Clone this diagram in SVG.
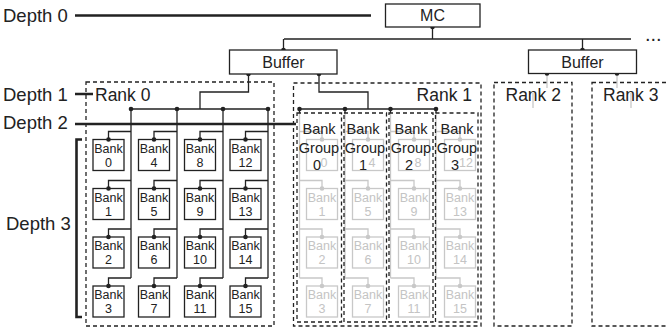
<svg xmlns="http://www.w3.org/2000/svg" width="668" height="334" viewBox="0 0 668 334">
<style>
text{font-family:"Liberation Sans",Arial,sans-serif;fill:#222}
.lbl{font-size:18.5px}
.rk{font-size:17.5px}
.bf{font-size:16px;text-anchor:middle}
.bk{font-size:12.5px;text-anchor:middle}
.bg{font-size:14.5px;text-anchor:middle}
.gt{font-size:12.5px;text-anchor:middle;fill:#c4c4c4}
.ln{fill:none;stroke:#222;stroke-width:1.3}
.gl{fill:none;stroke:#c8c8c8;stroke-width:1.3}
.th{fill:none;stroke:#222;stroke-width:2.6}
.box{fill:#fff;stroke:#222;stroke-width:1.3}
.gbox{fill:none;stroke:#c8c8c8;stroke-width:1.3}
.dash{fill:none;stroke:#222;stroke-width:1.3;stroke-dasharray:4 3}
.dot{fill:#222}
.gdot{fill:#c8c8c8}
</style>

<g id="labels">
<text class="lbl" x="3" y="22">Depth 0</text>
<text class="lbl" x="3" y="101">Depth 1</text>
<text class="lbl" x="3" y="129">Depth 2</text>
<text class="lbl" x="6" y="230">Depth 3</text>
<text x="645" y="41" style="font-size:20px">...</text>
</g>

<g id="rank-boxes">
<rect id="rank0" class="dash" x="86" y="82" width="188" height="244"/>
<rect id="rank1" class="dash" x="293.5" y="83" width="187.5" height="243"/>
<rect id="rank2" class="dash" x="494" y="82.5" width="78" height="243.5"/>
<rect id="rank3" class="dash" x="592" y="82.5" width="90" height="243.5"/>
<text class="rk" x="95" y="101">Rank 0</text>
<text class="rk" x="472" y="101" text-anchor="end">Rank 1</text>
<text class="rk" x="505.5" y="101">Rank 2</text>
<text class="rk" x="603" y="101">Rank 3</text>
</g>

<g id="connectors">
<path class="ln" d="M284,39 H631 M432.5,27 V39 M283.5,39 V50 M582.5,39 V50"/>
<path class="ln" d="M248.5,74 V92 H200 V109 M131,109 H268"/>
<path class="ln" d="M319,74 V92 H368 V109 M299.5,109 H436"/>
<path class="ln" d="M131,109 V278 M177,109 V278 M223,109 V278 M268,109 V278"/>
<path class="ln" d="M299.5,109 V113 M345,109 V113 M390.5,109 V113 M436,109 V113"/>
<path class="gl" d="M547,74 V88 M533,93 V108 M617,74 V88 M631,93 V108"/>
<circle class="dot" cx="432.5" cy="27" r="2.3"/>
<circle class="dot" cx="283.5" cy="50" r="2.3"/>
<circle class="dot" cx="582.5" cy="50" r="2.3"/>
<circle class="dot" cx="248.5" cy="74" r="2.3"/>
<circle class="dot" cx="319" cy="74" r="2.3"/>
<circle class="dot" cx="547" cy="73.5" r="2.3"/>
<circle class="dot" cx="617" cy="73.5" r="2.3"/>
<circle class="dot" cx="131" cy="109" r="2.3"/>
<circle class="dot" cx="177" cy="109" r="2.3"/>
<circle class="dot" cx="223" cy="109" r="2.3"/>
<circle class="dot" cx="268" cy="109" r="2.3"/>
<circle class="dot" cx="299.5" cy="109" r="2.3"/>
<circle class="dot" cx="345" cy="109" r="2.3"/>
<circle class="dot" cx="390.5" cy="109" r="2.3"/>
<circle class="dot" cx="436" cy="109" r="2.3"/>
<path class="ln" d="M131,131.5 H108.5 V139.5 M131,180.5 H108.5 V188.5 M131,229 H108.5 V237 M131,278 H108.5 V286"/>
<path class="ln" d="M177,131.5 H154 V139.5 M177,180.5 H154 V188.5 M177,229 H154 V237 M177,278 H154 V286"/>
<path class="ln" d="M223,131.5 H200 V139.5 M223,180.5 H200 V188.5 M223,229 H200 V237 M223,278 H200 V286"/>
<path class="ln" d="M268,131.5 H245.5 V139.5 M268,180.5 H245.5 V188.5 M268,229 H245.5 V237 M268,278 H245.5 V286"/>
<path class="gl" d="M299.5,113 V278 M299.5,131.5 H322 V139.5 M299.5,180.5 H322 V188.5 M299.5,229 H322 V237 M299.5,278 H322 V286"/>
<path class="gl" d="M345,113 V278 M345,131.5 H368 V139.5 M345,180.5 H368 V188.5 M345,229 H368 V237 M345,278 H368 V286"/>
<path class="gl" d="M390.5,113 V278 M390.5,131.5 H414 V139.5 M390.5,180.5 H414 V188.5 M390.5,229 H414 V237 M390.5,278 H414 V286"/>
<path class="gl" d="M436,113 V278 M436,131.5 H460 V139.5 M436,180.5 H460 V188.5 M436,229 H460 V237 M436,278 H460 V286"/>
<path class="th" d="M75,15.5 H371 M75,94 H93 M75,124 H296 M82,139.5 H76.5 V317 H82"/>
</g>

<g id="mc">
<rect class="box" x="385.5" y="4" width="94.5" height="23"/>
<text class="bf" x="432.5" y="21">MC</text>
</g>
<g id="buffer-left">
<rect class="box" x="229.5" y="50" width="107.5" height="24"/>
<text class="bf" x="283.5" y="67.5">Buffer</text>
</g>
<g id="buffer-right">
<rect class="box" x="528.5" y="50" width="108" height="23.5"/>
<text class="bf" x="582.5" y="67.5">Buffer</text>
</g>

<g id="rank0-banks">
<g id="bank0"><rect class="box" x="93" y="139.5" width="31" height="31"/><text class="bk" x="108.5" y="152.5">Bank</text><text class="bk" x="108.5" y="166.5">0</text></g>
<g id="bank1"><rect class="box" x="93" y="188.5" width="31" height="31"/><text class="bk" x="108.5" y="201.5">Bank</text><text class="bk" x="108.5" y="215.5">1</text></g>
<g id="bank2"><rect class="box" x="93" y="237" width="31" height="31"/><text class="bk" x="108.5" y="250">Bank</text><text class="bk" x="108.5" y="264">2</text></g>
<g id="bank3"><rect class="box" x="93" y="286" width="31" height="31"/><text class="bk" x="108.5" y="299">Bank</text><text class="bk" x="108.5" y="313">3</text></g>
<g id="bank4"><rect class="box" x="138.5" y="139.5" width="31" height="31"/><text class="bk" x="154" y="152.5">Bank</text><text class="bk" x="154" y="166.5">4</text></g>
<g id="bank5"><rect class="box" x="138.5" y="188.5" width="31" height="31"/><text class="bk" x="154" y="201.5">Bank</text><text class="bk" x="154" y="215.5">5</text></g>
<g id="bank6"><rect class="box" x="138.5" y="237" width="31" height="31"/><text class="bk" x="154" y="250">Bank</text><text class="bk" x="154" y="264">6</text></g>
<g id="bank7"><rect class="box" x="138.5" y="286" width="31" height="31"/><text class="bk" x="154" y="299">Bank</text><text class="bk" x="154" y="313">7</text></g>
<g id="bank8"><rect class="box" x="184.5" y="139.5" width="31" height="31"/><text class="bk" x="200" y="152.5">Bank</text><text class="bk" x="200" y="166.5">8</text></g>
<g id="bank9"><rect class="box" x="184.5" y="188.5" width="31" height="31"/><text class="bk" x="200" y="201.5">Bank</text><text class="bk" x="200" y="215.5">9</text></g>
<g id="bank10"><rect class="box" x="184.5" y="237" width="31" height="31"/><text class="bk" x="200" y="250">Bank</text><text class="bk" x="200" y="264">10</text></g>
<g id="bank11"><rect class="box" x="184.5" y="286" width="31" height="31"/><text class="bk" x="200" y="299">Bank</text><text class="bk" x="200" y="313">11</text></g>
<g id="bank12"><rect class="box" x="230" y="139.5" width="31" height="31"/><text class="bk" x="245.5" y="152.5">Bank</text><text class="bk" x="245.5" y="166.5">12</text></g>
<g id="bank13"><rect class="box" x="230" y="188.5" width="31" height="31"/><text class="bk" x="245.5" y="201.5">Bank</text><text class="bk" x="245.5" y="215.5">13</text></g>
<g id="bank14"><rect class="box" x="230" y="237" width="31" height="31"/><text class="bk" x="245.5" y="250">Bank</text><text class="bk" x="245.5" y="264">14</text></g>
<g id="bank15"><rect class="box" x="230" y="286" width="31" height="31"/><text class="bk" x="245.5" y="299">Bank</text><text class="bk" x="245.5" y="313">15</text></g>
<g class="dots">
<circle class="dot" cx="108.5" cy="139.5" r="2.3"/><circle class="dot" cx="108.5" cy="188.5" r="2.3"/><circle class="dot" cx="108.5" cy="237" r="2.3"/><circle class="dot" cx="108.5" cy="286" r="2.3"/>
<circle class="dot" cx="154" cy="139.5" r="2.3"/><circle class="dot" cx="154" cy="188.5" r="2.3"/><circle class="dot" cx="154" cy="237" r="2.3"/><circle class="dot" cx="154" cy="286" r="2.3"/>
<circle class="dot" cx="200" cy="139.5" r="2.3"/><circle class="dot" cx="200" cy="188.5" r="2.3"/><circle class="dot" cx="200" cy="237" r="2.3"/><circle class="dot" cx="200" cy="286" r="2.3"/>
<circle class="dot" cx="245.5" cy="139.5" r="2.3"/><circle class="dot" cx="245.5" cy="188.5" r="2.3"/><circle class="dot" cx="245.5" cy="237" r="2.3"/><circle class="dot" cx="245.5" cy="286" r="2.3"/>
</g>
</g>

<g id="rank1-banks">
<g id="r1-bank0"><rect class="gbox" x="306.5" y="139.5" width="31" height="31"/><text class="gt" x="324" y="166.5">0</text></g>
<g id="r1-bank1"><rect class="gbox" x="306.5" y="188.5" width="31" height="31"/><text class="gt" x="322" y="201.5">Bank</text><text class="gt" x="322" y="215.5">1</text></g>
<g id="r1-bank2"><rect class="gbox" x="306.5" y="237" width="31" height="31"/><text class="gt" x="322" y="250">Bank</text><text class="gt" x="322" y="264">2</text></g>
<g id="r1-bank3"><rect class="gbox" x="306.5" y="286" width="31" height="31"/><text class="gt" x="322" y="299">Bank</text><text class="gt" x="322" y="313">3</text></g>
<g id="r1-bank4"><rect class="gbox" x="352.5" y="139.5" width="31" height="31"/><text class="gt" x="372" y="166.5">4</text></g>
<g id="r1-bank5"><rect class="gbox" x="352.5" y="188.5" width="31" height="31"/><text class="gt" x="368" y="201.5">Bank</text><text class="gt" x="368" y="215.5">5</text></g>
<g id="r1-bank6"><rect class="gbox" x="352.5" y="237" width="31" height="31"/><text class="gt" x="368" y="250">Bank</text><text class="gt" x="368" y="264">6</text></g>
<g id="r1-bank7"><rect class="gbox" x="352.5" y="286" width="31" height="31"/><text class="gt" x="368" y="299">Bank</text><text class="gt" x="368" y="313">7</text></g>
<g id="r1-bank8"><rect class="gbox" x="398.5" y="139.5" width="31" height="31"/><text class="gt" x="418" y="166.5">8</text></g>
<g id="r1-bank9"><rect class="gbox" x="398.5" y="188.5" width="31" height="31"/><text class="gt" x="414" y="201.5">Bank</text><text class="gt" x="414" y="215.5">9</text></g>
<g id="r1-bank10"><rect class="gbox" x="398.5" y="237" width="31" height="31"/><text class="gt" x="414" y="250">Bank</text><text class="gt" x="414" y="264">10</text></g>
<g id="r1-bank11"><rect class="gbox" x="398.5" y="286" width="31" height="31"/><text class="gt" x="414" y="299">Bank</text><text class="gt" x="414" y="313">11</text></g>
<g id="r1-bank12"><rect class="gbox" x="444.5" y="139.5" width="31" height="31"/><text class="gt" x="466" y="166.5">12</text></g>
<g id="r1-bank13"><rect class="gbox" x="444.5" y="188.5" width="31" height="31"/><text class="gt" x="460" y="201.5">Bank</text><text class="gt" x="460" y="215.5">13</text></g>
<g id="r1-bank14"><rect class="gbox" x="444.5" y="237" width="31" height="31"/><text class="gt" x="460" y="250">Bank</text><text class="gt" x="460" y="264">14</text></g>
<g id="r1-bank15"><rect class="gbox" x="444.5" y="286" width="31" height="31"/><text class="gt" x="460" y="299">Bank</text><text class="gt" x="460" y="313">15</text></g>
<g class="dots">
<circle class="gdot" cx="322" cy="139.5" r="2.3"/><circle class="gdot" cx="322" cy="188.5" r="2.3"/><circle class="gdot" cx="322" cy="237" r="2.3"/><circle class="gdot" cx="322" cy="286" r="2.3"/>
<circle class="gdot" cx="368" cy="139.5" r="2.3"/><circle class="gdot" cx="368" cy="188.5" r="2.3"/><circle class="gdot" cx="368" cy="237" r="2.3"/><circle class="gdot" cx="368" cy="286" r="2.3"/>
<circle class="gdot" cx="414" cy="139.5" r="2.3"/><circle class="gdot" cx="414" cy="188.5" r="2.3"/><circle class="gdot" cx="414" cy="237" r="2.3"/><circle class="gdot" cx="414" cy="286" r="2.3"/>
<circle class="gdot" cx="460" cy="139.5" r="2.3"/><circle class="gdot" cx="460" cy="188.5" r="2.3"/><circle class="gdot" cx="460" cy="237" r="2.3"/><circle class="gdot" cx="460" cy="286" r="2.3"/>
</g>
</g>

<g id="bankgroup0"><rect class="dash" x="297" y="113" width="44.5" height="209"/><text class="bg" x="319" y="134">Bank</text><text class="bg" x="319" y="152.5">Group</text><text class="bg" x="317" y="170">0</text></g>
<g id="bankgroup1"><rect class="dash" x="344" y="113" width="42.5" height="209"/><text class="bg" x="363" y="134">Bank</text><text class="bg" x="365" y="152.5">Group</text><text class="bg" x="363" y="170">1</text></g>
<g id="bankgroup2"><rect class="dash" x="389" y="113" width="44" height="209"/><text class="bg" x="411" y="134">Bank</text><text class="bg" x="411" y="152.5">Group</text><text class="bg" x="409" y="170">2</text></g>
<g id="bankgroup3"><rect class="dash" x="435.5" y="113" width="42.5" height="209"/><text class="bg" x="457" y="134">Bank</text><text class="bg" x="457" y="152.5">Group</text><text class="bg" x="455" y="170">3</text></g>
</svg>
